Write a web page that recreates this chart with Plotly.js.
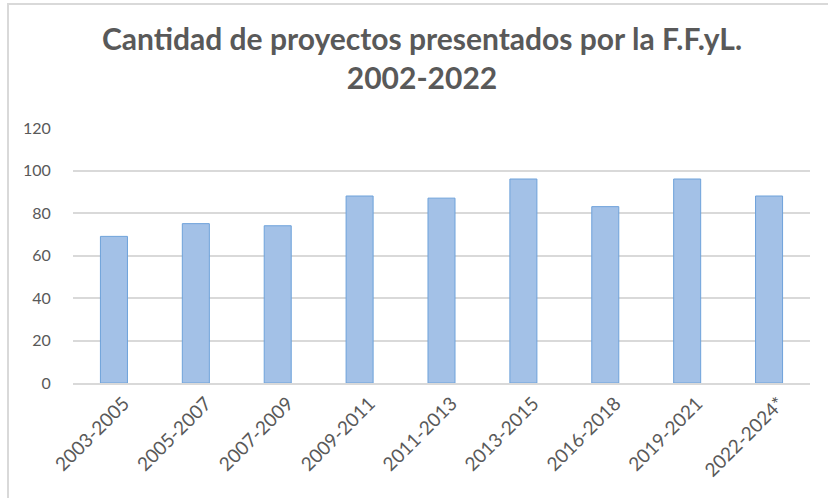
<!DOCTYPE html>
<html>
<head>
<meta charset="utf-8">
<script src="https://cdn.plot.ly/plotly-3.0.1.min.js"></script>
<style>
html,body{margin:0;padding:0;background:#fff;}
#chart{width:828px;height:498px;}
</style>
</head>
<body>
<div id="chart"></div>
<script>
const categories = ["2003-2005","2005-2007","2007-2009","2009-2011","2011-2013","2013-2015","2016-2018","2019-2021","2022-2024*"];
const values = [69, 75, 74, 88, 87, 96, 83, 96, 88];
const yTicks = [0, 20, 40, 60, 80, 100, 120];

const L = 73, R = 18, T = 128, B = 115, W = 828, H = 498;
const pw = W - L - R, ph = H - T - B;
const px = x => (x - L) / pw;
const py = y => (H - B - y) / ph;

const trace = {
  type: 'bar',
  x: categories,
  y: values,
  marker: {color: '#a3c1e7', line: {color: '#6ea2da', width: 1}},
  hoverinfo: 'skip'
};

const layout = {
  width: W, height: H,
  margin: {l: L, r: R, t: T, b: B, pad: 0},
  paper_bgcolor: '#ffffff', plot_bgcolor: '#ffffff',
  showlegend: false,
  bargap: 0.67,
  font: {family: 'Lato, "Open Sans", sans-serif', color: '#595959'},
  title: {
    text: '<b>Cantidad de proyectos presentados por la F.F.yL.</b><br><b>2002-2022</b>',
    font: {family: 'Lato, "Open Sans", sans-serif', size: 30, color: '#595959'},
    xref: 'container', x: 422 / W, xanchor: 'center',
    yref: 'container', y: 1 - 50 / H, yanchor: 'top'
  },
  xaxis: {
    type: 'category',
    tickangle: -45,
    tickfont: {size: 19, color: '#595959'},
    ticklabelshift: 10,
    ticklabelstandoff: 0,
    showgrid: false,
    showline: true, linecolor: '#d9d9d9', linewidth: 2,
    ticks: '', fixedrange: true
  },
  yaxis: {
    range: [0, 120],
    tickvals: yTicks,
    ticktext: yTicks.map(String),
    tickfont: {size: 16, color: '#595959'},
    showgrid: true, gridcolor: '#d9d9d9', gridwidth: 2,
    zeroline: false, showline: false,
    ticks: 'outside', ticklen: 18, tickcolor: 'rgba(0,0,0,0)',
    fixedrange: true
  },
  shapes: [{
    type: 'rect', xref: 'paper', yref: 'paper',
    x0: px(8), x1: px(840), y0: py(510), y1: py(4),
    line: {color: '#d9d9d9', width: 2}, fillcolor: 'rgba(0,0,0,0)', layer: 'above'
  }]
};

Plotly.newPlot('chart', [trace], layout, {staticPlot: true, displayModeBar: false});
</script>
</body>
</html>
